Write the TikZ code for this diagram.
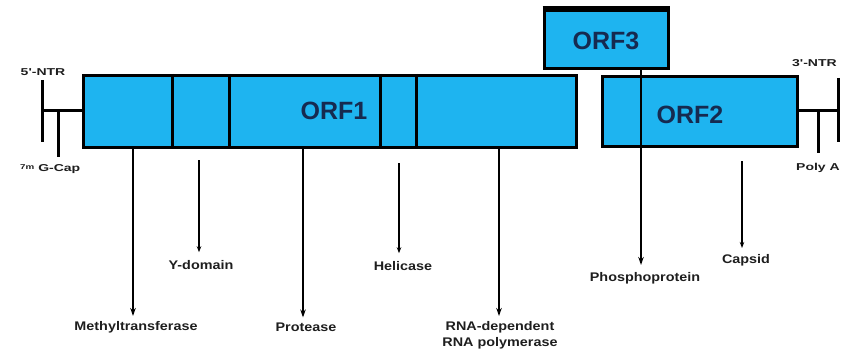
\documentclass[tikz,border=0pt]{standalone}
\usepackage{fontspec}
\setmainfont{Liberation Sans}
\newfontfamily\lblfont[FakeStretch=1.15]{Liberation Sans}
\newfontfamily\smallfont[FakeStretch=1.4]{Liberation Sans}
\usetikzlibrary{arrows.meta}
\definecolor{orfblue}{RGB}{30,180,240}
\definecolor{orftext}{RGB}{22,42,80}
\definecolor{lbltext}{RGB}{30,30,30}
\tikzset{
  orfbox/.style={draw=black, line width=3pt, fill=orfblue, inner sep=0pt},
  orflabel/.style={font=\fontsize{25}{27}\selectfont\bfseries, text=orftext, inner sep=0pt},
  lbl/.style={font=\lblfont\fontsize{12.5}{16}\selectfont\bfseries, text=lbltext, inner sep=0pt, align=center},
  smalllbl/.style={font=\smallfont\fontsize{10}{12}\selectfont\bfseries, text=lbltext, inner sep=0pt},
  divider/.style={line width=3pt, black},
  ntr/.style={line width=3pt, black},
  longarr/.style={line width=2.4pt, -{Stealth[length=8pt,width=5.5pt]}},
  shortarr/.style={line width=1.6pt, -{Stealth[length=6pt,width=4.5pt]}},
}
\begin{document}
\begin{tikzpicture}[x=1pt,y=-1pt]
\useasboundingbox (0,0) rectangle (846,353);
\clip (0,0) rectangle (846,353);
% boxes
\node[orfbox, minimum width=493pt, minimum height=72pt] (orf1) at (329.5,111.5) {};
\node[orfbox, minimum width=195pt, minimum height=70pt] (orf2) at (699.5,111.5) {};
\node[orfbox, minimum width=124pt, minimum height=58pt] (orf3) at (606,40) {};
\draw[line width=3pt] ([yshift=1.5pt]orf3.north west) -- ([yshift=1.5pt]orf3.north east);
% ORF1 dividers
\foreach \dx in {172,229,380,416}
  \draw[divider] (\dx,0 |- orf1.north) -- (\dx,0 |- orf1.south);
% labels in boxes
\node[orflabel] (t1) at (334,111) {ORF1};
\node[orflabel] (t2) at (690,115) {ORF2};
\node[orflabel] (t3) at (606,41) {ORF3};
% 5' NTR
\coordinate (l1) at (42,80);
\coordinate (l2) at (42,142);
\coordinate (l3) at (42,110);
\coordinate (l4) at (58,110);
\coordinate (l5) at (58,157);
\draw[ntr] (l1) -- (l2);
\draw[ntr] (l3) -- (l3 -| orf1.west);
\draw[ntr] (l4) -- (l5);
\node[smalllbl] (ntr5) at (43,72) {5'-NTR};
\node[smalllbl, anchor=west] (cap) at (20,169) {\raisebox{0.5ex}{\fontsize{7}{8}\selectfont 7m} G-Cap};
% 3' NTR
\coordinate (r1) at (838,78);
\coordinate (r2) at (838,142);
\coordinate (r3) at (838,110);
\coordinate (r4) at (818,110);
\coordinate (r5) at (818,153);
\draw[ntr] (r1) -- (r2);
\draw[ntr] (r3 -| orf2.east) -- (r3);
\draw[ntr] (r4) -- (r5);
\node[smalllbl, anchor=west] (ntr3) at (792,63) {3'-NTR};
\node[smalllbl, anchor=west] (polya) at (796,168) {Poly A};
% product labels
\node[lbl] (mt) at (136,327) {Methyltransferase};
\node[lbl] (yd) at (201,265) {Y-domain};
\node[lbl] (pr) at (306,327) {Protease};
\node[lbl] (he) at (403,266) {Helicase};
\node[lbl, anchor=north] (rd) at (500,321) {RNA-dependent\\RNA polymerase};
\node[lbl] (pp) at (645,278) {Phosphoprotein};
\node[lbl] (cp) at (746,260) {Capsid};
% arrows
\draw[longarr, shorten >=5pt] (orf1.south -| 133,0) -- (133,0 |- mt.north);
\draw[longarr, shorten >=5pt] (orf1.south -| 303,0) -- (303,0 |- pr.north);
\draw[longarr, shorten >=5pt] (orf1.south -| 499,0) -- (499,0 |- rd.north);
\draw[longarr, shorten >=7pt] (orf3.south -| 641,0) -- (641,0 |- pp.north);
\coordinate (ys) at (199,160);
\coordinate (hs) at (399,163);
\coordinate (cs) at (742,161);
\draw[shortarr, shorten >=8pt] (ys) -- (ys |- yd.north);
\draw[shortarr, shorten >=8pt] (hs) -- (hs |- he.north);
\draw[shortarr, shorten >=6pt] (cs) -- (cs |- cp.north);
\end{tikzpicture}
\end{document}
